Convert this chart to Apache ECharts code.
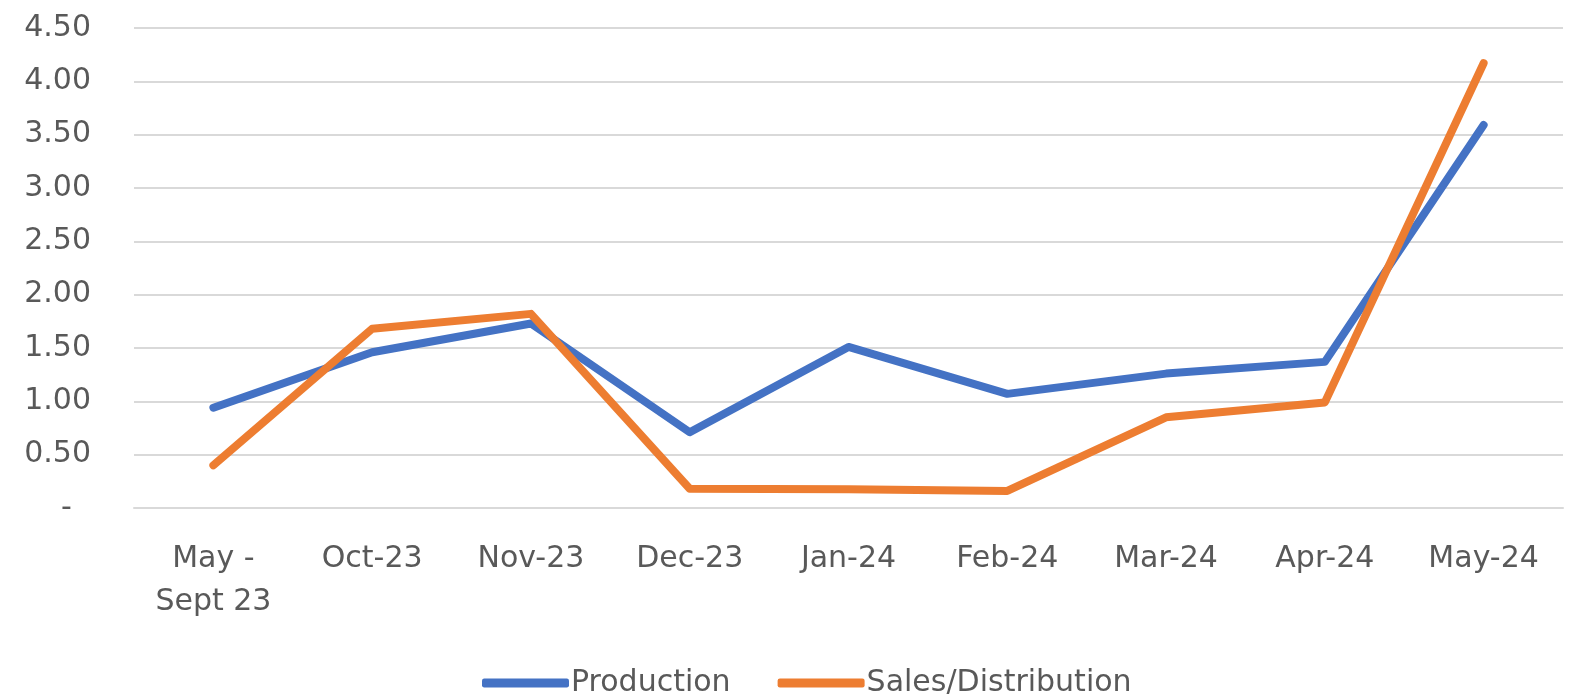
<!DOCTYPE html>
<html>
<head>
<meta charset="utf-8">
<script src="https://cdn.jsdelivr.net/npm/echarts@6/dist/echarts.min.js"></script>
<style>
html,body{margin:0;padding:0;background:#fff;}
#chart{width:1580px;height:696px;}
</style>
</head>
<body>
<div id="chart"></div>
<script>
var categories = ['May -\nSept 23','Oct-23','Nov-23','Dec-23','Jan-24','Feb-24','Mar-24','Apr-24','May-24'];
var production = [0.94, 1.46, 1.73, 0.71, 1.51, 1.07, 1.26, 1.37, 3.59];
var salesDistribution = [0.40, 1.68, 1.82, 0.18, 0.175, 0.16, 0.85, 0.99, 4.17];
var seriesNames = ['Production','Sales/Distribution'];
var colors = ['#4472C4','#ED7D31'];

var FONT = '"DejaVu Sans", sans-serif';
var chart = echarts.init(document.getElementById('chart'), null, {renderer:'canvas'});
chart.setOption({
  animation:false,
  backgroundColor:'#ffffff',
  color: colors,
  grid:{left:134,right:17,top:28,bottom:188,containLabel:false},
  legend:{
    data: seriesNames.map(function(n){return {name:n, icon:'roundRect'};}),
    left:477, top:663,
    itemWidth:87, itemHeight:9, itemGap:47,
    textStyle:{fontFamily:FONT,fontSize:30,color:'#595959',padding:[0,0,0,-3]}
  },
  xAxis:{
    type:'category',
    data:categories,
    boundaryGap:true,
    axisLine:{show:true,lineStyle:{color:'#d9d9d9',width:2}},
    axisTick:{show:false},
    axisLabel:{fontFamily:FONT,fontSize:30,color:'#595959',margin:30,lineHeight:43,interval:0}
  },
  yAxis:{
    type:'value',
    min:0,max:4.5,interval:0.5,
    axisLine:{show:false},
    axisTick:{show:false},
    splitLine:{show:true,lineStyle:{color:'#d9d9d9',width:2}},
    axisLabel:{fontFamily:FONT,fontSize:30,color:'#595959',margin:43,
      formatter:function(v){return v===0?'-  ':v.toFixed(2);}}
  },
  series:[
    {name:seriesNames[0],type:'line',data:production,symbol:'none',
      lineStyle:{width:8,color:colors[0],cap:'round',join:'round'}},
    {name:seriesNames[1],type:'line',data:salesDistribution,symbol:'none',
      lineStyle:{width:8,color:colors[1],cap:'round',join:'round'}}
  ]
});
</script>
</body>
</html>
